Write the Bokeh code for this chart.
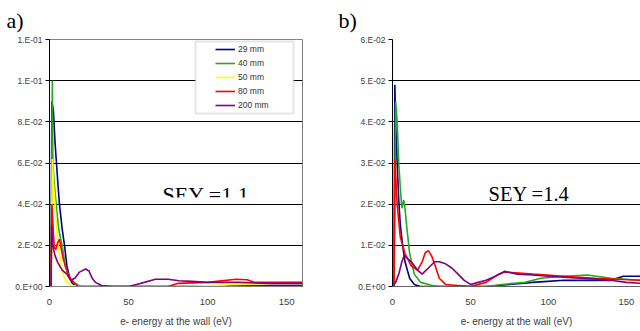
from bokeh.plotting import figure
from bokeh.layouts import row
from bokeh.models import FixedTicker, Label, BoxAnnotation, Range1d
from bokeh.embed import file_html
from bokeh.resources import INLINE

# ---------------- data: panel a (SEY = 1.1) ----------------
a_x_ticks = [0, 50, 100, 150]
a_y_ticks = [0, 0.02, 0.04, 0.06, 0.08, 0.10, 0.12]
a_y_labels = ["0.E+00", "2.E-02", "4.E-02", "6.E-02", "8.E-02", "1.E-01", "1.E-01"]

a29_x = [1, 1.5, 2.5, 3.5, 4.4, 5.5, 6.3, 8, 9.5, 11, 12.5, 14, 16, 20, 40, 80, 110, 115, 130, 160]
a29_y = [0, 0.09, 0.085, 0.07, 0.06, 0.048, 0.04, 0.028, 0.02, 0.01, 0.005, 0.002, 0.0005, 0, 0, 0, 0, 0.0005, 0.0005, 0.0005]

a40_x = [1, 1.8, 2.1, 3, 4.2, 5.5, 6.5, 8, 10, 12, 15, 20, 60, 100, 160]
a40_y = [0, 0.1, 0.06, 0.05, 0.04, 0.03, 0.025, 0.02, 0.01, 0.005, 0.002, 0, 0, 0, 0]

a50_x = [1, 1.8, 2.5, 3.5, 4.5, 5.5, 7, 9, 11, 14, 20, 60, 90, 100, 120, 140, 150, 160]
a50_y = [0, 0.062, 0.05, 0.04, 0.028, 0.02, 0.012, 0.005, 0.002, 0.0005, 0, 0, 0, 0.0005, 0.001, 0.0015, 0.002, 0.002]

a80_x = [1, 1.5, 2.2, 3, 4, 5, 6.3, 7, 8.5, 10, 13, 18, 40, 75, 81, 100, 118, 125, 130, 160]
a80_y = [0, 0.04, 0.03, 0.019, 0.018, 0.021, 0.023, 0.02, 0.014, 0.01, 0.004, 0, 0, 0, 0.0015, 0.002, 0.0035, 0.0033, 0.002, 0.002]

a200_x = [1, 1.3, 2, 3.5, 5, 8, 11, 13.3, 16, 19, 22.8, 25, 27, 29, 33, 40, 50, 55, 60, 67, 75, 82, 90, 100, 120, 140, 160]
a200_y = [0, 0.03, 0.02, 0.015, 0.012, 0.008, 0.006, 0.003, 0.004, 0.007, 0.0085, 0.0075, 0.004, 0.002, 0.0005, 0, 0, 0.001, 0.002, 0.0035, 0.0035, 0.0028, 0.0025, 0.002, 0.002, 0.0015, 0.0015]

# ---------------- data: panel b (SEY = 1.4) ----------------
b_x_ticks = [0, 50, 100, 150]
b_y_ticks = [0, 0.01, 0.02, 0.03, 0.04, 0.05, 0.06]
b_y_labels = ["0.E+00", "1.E-02", "2.E-02", "3.E-02", "4.E-02", "5.E-02", "6.E-02"]

b29_x = [1, 1.5, 2, 3, 4, 5, 6.5, 8, 11, 14, 18, 60, 75, 90, 110, 140, 148, 159]
b29_y = [0, 0.049, 0.04, 0.03, 0.021, 0.015, 0.01, 0.006, 0.002, 0.0005, 0, 0, 0.0005, 0.001, 0.0015, 0.0015, 0.0025, 0.0025]

b40_x = [1, 2, 3, 4, 5, 6, 7.2, 8, 9, 11, 14, 18, 25, 30, 60, 70, 85, 95, 110, 125, 140, 159]
b40_y = [0, 0.045, 0.04, 0.03, 0.024, 0.019, 0.021, 0.019, 0.015, 0.008, 0.003, 0.001, 0.0003, 0, 0, 0.0005, 0.001, 0.002, 0.0025, 0.0028, 0.002, 0.0015]

b80_x = [1, 1.5, 3, 5, 8, 12, 16, 19, 21, 23, 25, 26.5, 30, 34, 50, 60, 68, 72, 90, 110, 130, 159]
b80_y = [0, 0.031, 0.02, 0.012, 0.008, 0.005, 0.004, 0.006, 0.0082, 0.0087, 0.0075, 0.006, 0.002, 0.0005, 0, 0.001, 0.003, 0.0035, 0.003, 0.0025, 0.002, 0.0015]

b200_x = [0, 2, 4, 6, 7.5, 9, 12, 16, 19, 23, 27, 30, 34, 38, 42, 46, 50, 55, 60, 66, 72, 80, 90, 100, 120, 130, 140, 150, 159]
b200_y = [0, 0.001, 0.003, 0.006, 0.0075, 0.007, 0.006, 0.004, 0.003, 0.0045, 0.006, 0.006, 0.0055, 0.0045, 0.003, 0.0015, 0.0005, 0.001, 0.0015, 0.0025, 0.0037, 0.003, 0.0028, 0.0025, 0.002, 0.0018, 0.0015, 0.001, 0.0008]

series_names = ["29 mm", "40 mm", "50 mm", "80 mm", "200 mm"]
series_colors = ["#000080", "#22aa22", "#ffff00", "#ff0000", "#800080"]

SANS = "Liberation Sans"
SERIF = "Liberation Serif"


def style(p, yticks, ylabels, xticks, axis_color, title_offset):
    p.title.text_font = SERIF
    p.title.text_font_size = "22px"
    p.title.text_font_style = "normal"
    p.title.text_color = "#000000"
    p.title.align = "left"
    p.title.vertical_align = "top"
    p.title.offset = title_offset
    p.title.standoff = 10
    p.xgrid.grid_line_color = None
    p.ygrid.grid_line_color = "#000000"
    p.ygrid.grid_line_width = 1
    p.ygrid.ticker = FixedTicker(ticks=yticks)
    p.yaxis.ticker = FixedTicker(ticks=yticks)
    p.yaxis.major_label_overrides = dict(zip(yticks, ylabels))
    p.yaxis.axis_line_color = "#000000"
    p.yaxis.major_tick_line_color = "#000000"
    p.yaxis.major_tick_out = 4
    p.yaxis.major_tick_in = 0
    p.yaxis.minor_tick_line_color = None
    p.yaxis.major_label_text_font = SANS
    p.yaxis.major_label_text_font_size = "8.5px"
    p.yaxis.major_label_text_color = "#404040"
    p.yaxis.major_label_standoff = 3
    p.xaxis.ticker = FixedTicker(ticks=xticks)
    p.xaxis.axis_line_color = axis_color
    p.xaxis.major_tick_line_color = None
    p.xaxis.minor_tick_line_color = None
    p.xaxis.major_label_text_font = SANS
    p.xaxis.major_label_text_font_size = "9.5px"
    p.xaxis.major_label_text_color = "#404040"
    p.xaxis.major_label_standoff = 6
    p.xaxis.axis_label = "e- energy at the wall (eV)"
    p.xaxis.axis_label_text_font = SANS
    p.xaxis.axis_label_text_font_size = "10px"
    p.xaxis.axis_label_text_font_style = "normal"
    p.xaxis.axis_label_text_color = "#404040"
    p.xaxis.axis_label_standoff = 8
    p.background_fill_color = "white"
    p.border_fill_color = "white"


# ---------------- panel a ----------------
pa = figure(width=320, height=331, output_backend="svg", toolbar_location=None, title="a)",
            x_range=Range1d(0, 160), y_range=Range1d(0, 0.12),
            min_border_left=49, min_border_right=18, min_border_top=39, min_border_bottom=45)
style(pa, a_y_ticks, a_y_labels, a_x_ticks, "#808080", -43)
pa.outline_line_color = "#808080"

a_data = [(a29_x, a29_y), (a40_x, a40_y), (a50_x, a50_y), (a80_x, a80_y), (a200_x, a200_y)]
for (xs, ys), name, col in zip(a_data, series_names, series_colors):
    pa.line(xs, ys, line_color=col, line_width=1.6, legend_label=name)

pa.add_layout(BoxAnnotation(left=146, right=244, bottom=173, top=245,
                            left_units="screen", right_units="screen",
                            bottom_units="screen", top_units="screen",
                            fill_color="white", fill_alpha=1,
                            line_color="#a8a8a8", line_width=2))
leg = pa.legend[0]
leg.location = (166, 174)
leg.padding = 0
leg.margin = 0
leg.spacing = 0
leg.glyph_width = 20
leg.glyph_height = 14
leg.label_height = 14
leg.label_standoff = 3
leg.label_text_font = SANS
leg.label_text_font_size = "8.5px"
leg.label_text_color = "#303030"
leg.border_line_color = None
leg.background_fill_alpha = 0

pa.add_layout(Label(x=113, y=92, x_units="screen", y_units="screen", text="SEY =1.1",
                    text_font=SERIF, text_font_size="22px", text_baseline="middle",
                    text_color="#000000"))
pa.add_layout(BoxAnnotation(left=105, right=205, bottom=82.8, top=89,
                            left_units="screen", right_units="screen",
                            bottom_units="screen", top_units="screen",
                            fill_color="white", fill_alpha=1, line_color=None))

# ---------------- panel b ----------------
pb = figure(width=320, height=331, output_backend="svg", toolbar_location=None, title="b)",
            x_range=Range1d(0, 159), y_range=Range1d(0, 0.06),
            min_border_left=72, min_border_right=0, min_border_top=39, min_border_bottom=42)
style(pb, b_y_ticks, b_y_labels, b_x_ticks, "#606060", -54)
pb.outline_line_color = None

b_data = [(b29_x, b29_y), (b40_x, b40_y), (b80_x, b80_y), (b200_x, b200_y)]
b_cols = [series_colors[0], series_colors[1], series_colors[3], series_colors[4]]
for (xs, ys), col in zip(b_data, b_cols):
    pb.line(xs, ys, line_color=col, line_width=1.6)

pb.add_layout(Label(x=96, y=93, x_units="screen", y_units="screen", text="SEY =1.4",
                    text_font=SERIF, text_font_size="20.5px", text_baseline="middle",
                    text_color="#000000"))

layout = row(pa, pb, spacing=0)
open("out.html", "w").write(file_html(layout, INLINE))
